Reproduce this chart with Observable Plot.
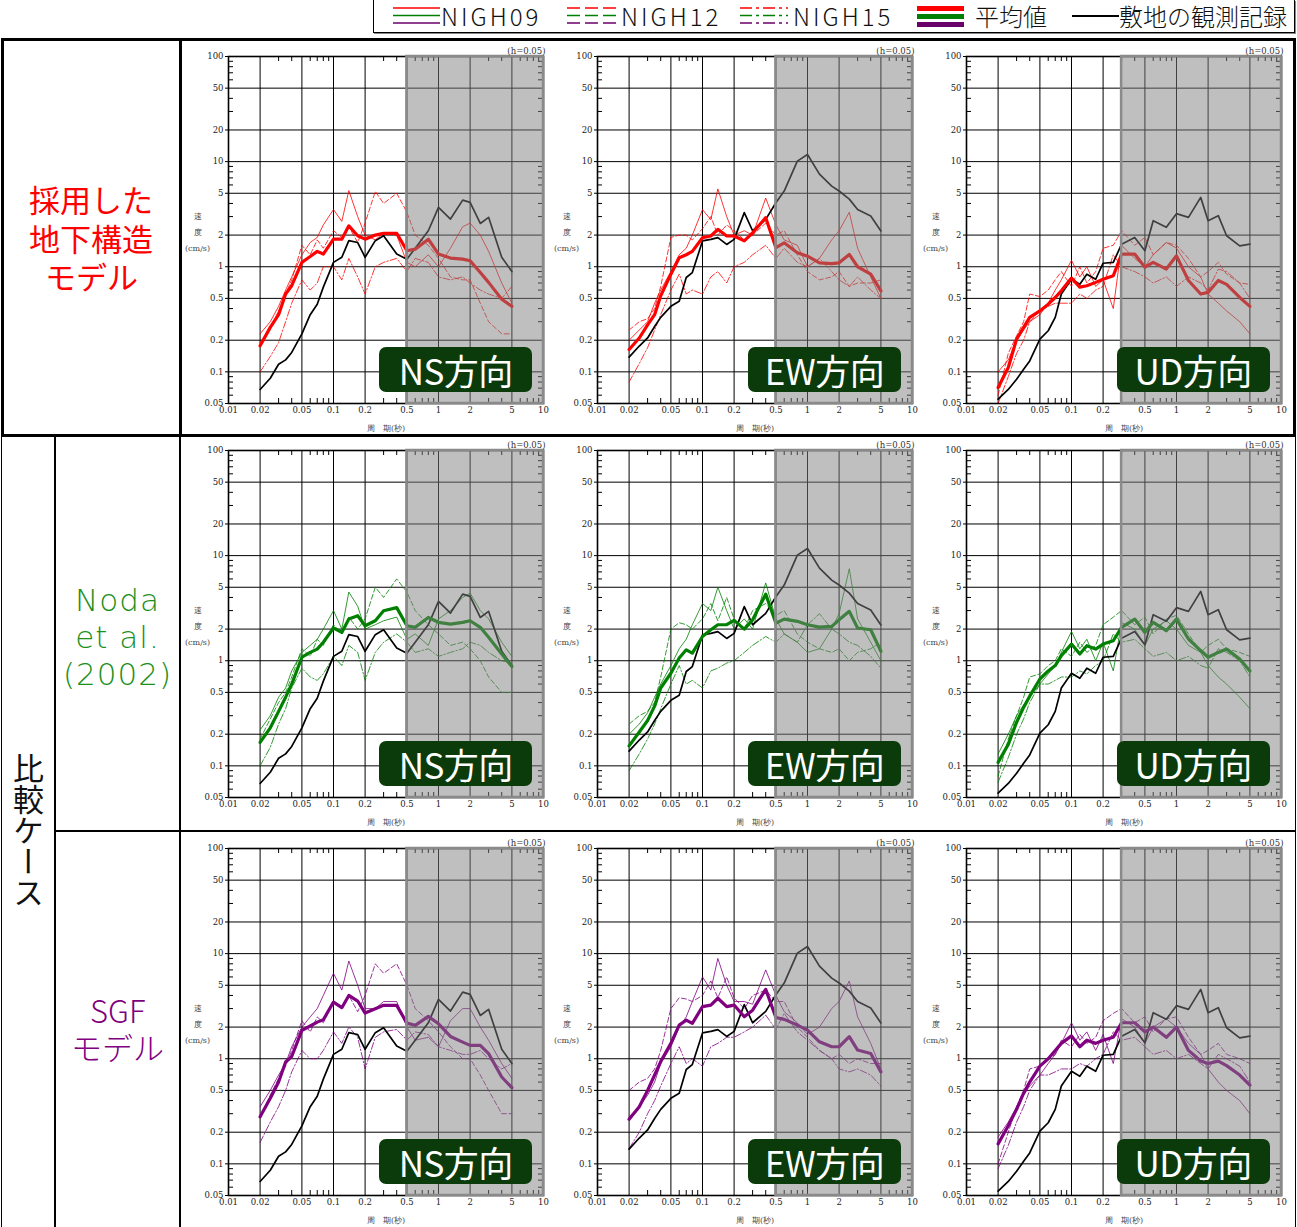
<!DOCTYPE html>
<html><head><meta charset="utf-8">
<script src="https://cdn.jsdelivr.net/npm/d3@7"></script>
<script src="https://cdn.jsdelivr.net/npm/@observablehq/plot@0.6"></script>
<style>
@font-face{font-family:"JPTight";src:local("Noto Sans CJK JP Regular"),local("NotoSansCJKjp-Regular"),local("Noto Sans CJK JP");ascent-override:92%;descent-override:14%;line-gap-override:0%;}
@font-face{font-family:"JPTightLight";src:local("Noto Sans CJK JP Light"),local("NotoSansCJKjp-Light"),local("Noto Sans CJK JP Regular"),local("NotoSansCJKjp-Regular"),local("Noto Sans CJK JP");ascent-override:92%;descent-override:14%;line-gap-override:0%;}
html,body{margin:0;padding:0;background:#fff;}
body{width:1297px;height:1227px;overflow:hidden;position:relative;font-family:"Noto Sans CJK JP","Noto Sans",sans-serif;}
.abs{position:absolute;}
.panel{position:absolute;}
.tag{position:absolute;width:153px;height:45px;border-radius:7px;background:#0b3a0b;color:#fff;font-size:35px;line-height:45px;text-align:center;font-family:"Noto Sans CJK JP",sans-serif;letter-spacing:-0.5px;}
.leg{position:absolute;top:0px;font-size:24px;line-height:31px;height:31px;font-family:"Noto Sans CJK JP",sans-serif;font-weight:300;color:#111;white-space:nowrap;}
.lab{position:absolute;text-align:center;white-space:nowrap;}
</style></head><body>
<script>
// ---------------- data ----------------
const periods = [0.02,0.025,0.03,0.035,0.04,0.05,0.06,0.07,0.08,0.1,0.12,0.14,0.17,0.2,0.25,0.3,0.4,0.5,0.6,0.8,1,1.3,1.7,2,2.5,3,4,5];
const components = ["NS","EW","UD"];
const shadeFrom = [0.5,0.5,0.3];
const caseColors = ["#ff0000","#008000","#800080"];
const xTicks = [0.01,0.02,0.05,0.1,0.2,0.5,1,2,5,10];
const yTicks = [0.05,0.1,0.2,0.5,1,2,5,10,20,50,100];
const xGrid = [0.02,0.05,0.1,0.2,0.5,1,2,5];
const yGrid = [0.1,0.2,0.5,1,2,5,10,20,50];
const xMinor = [0.03,0.04,0.06,0.07,0.08,0.09,0.3,0.4,0.6,0.7,0.8,0.9,3,4,6,7,8,9];
const yMinor = [0.06,0.07,0.08,0.09,0.3,0.4,0.6,0.7,0.8,0.9,3,4,6,7,8,9,30,40,60,70,80,90];

// observed records (black)
const obsNS = [0.068,0.087,0.118,0.13,0.153,0.23,0.35,0.44,0.64,1.1,1.23,1.77,1.7,1.23,1.77,1.97,1.32,1.18,1.5,2.2,3.67,2.84,4.3,4.1,2.58,2.95,1.23,0.9];
const obsEW = [0.138,0.176,0.21,0.27,0.33,0.42,0.47,0.79,0.88,1.76,1.82,1.89,1.63,1.82,3.27,2.2,2.82,4.06,5.25,10.1,11.7,7.6,5.85,5.25,4.4,3.5,3.04,2.19];
const obsUD = [0.055,0.068,0.085,0.106,0.127,0.205,0.246,0.33,0.55,0.76,0.68,0.85,0.76,1.08,1.1,1.64,1.9,1.42,2.74,2.37,3.2,2.95,4.57,2.74,3.06,1.97,1.58,1.64];

// 採用した地下構造モデル (red)
const redNSmean = [0.177,0.265,0.35,0.55,0.66,1.1,1.25,1.4,1.32,1.83,1.83,2.45,1.97,1.83,2.0,2.08,2.08,1.42,1.47,1.83,1.32,1.21,1.18,1.14,0.88,0.71,0.49,0.42];
const redNS09 = [0.23,0.3,0.42,0.6,0.8,1.3,1.7,1.9,2.5,3.5,2.7,5.3,3.0,2.0,1.8,2.1,2.0,1.1,1.0,1.3,1.0,1.5,2.4,2.6,2.0,1.4,0.7,0.45];
const redNS12 = [0.19,0.26,0.38,0.55,0.75,1.6,1.3,1.8,1.5,2.2,1.9,2.4,1.7,2.6,5.2,4.0,5.0,3.3,2.0,1.6,1.2,0.8,0.75,0.75,0.45,0.3,0.23,0.23];
const redNS15 = [0.1,0.14,0.19,0.3,0.45,0.75,0.6,0.7,1.0,1.0,0.75,1.2,0.8,0.55,1.0,1.1,1.2,0.9,1.2,1.1,0.8,0.75,0.8,0.7,0.6,0.55,0.5,0.65];
const redEWmean = [0.163,0.21,0.28,0.35,0.53,0.85,1.22,1.3,1.4,1.89,1.96,2.27,1.96,1.96,1.76,2.1,2.93,1.52,1.69,1.36,1.26,1.09,1.07,1.09,1.31,1.0,0.85,0.59];
const redEW09 = [0.2,0.25,0.3,0.45,0.6,0.9,1.3,1.5,2.0,3.5,2.8,5.5,3.0,2.0,2.2,2.0,4.5,2.5,1.8,1.6,1.0,1.2,1.8,2.2,3.3,1.5,0.8,0.5];
const redEW12 = [0.25,0.3,0.32,0.4,0.65,1.9,2.0,2.0,1.8,2.3,3.0,2.0,2.5,2.2,1.8,2.0,2.6,2.0,2.2,1.3,0.9,0.75,0.8,0.9,0.65,0.7,0.7,0.75];
const redEW15 = [0.08,0.12,0.17,0.25,0.35,0.6,0.85,0.55,0.6,0.55,0.8,0.9,0.7,1.0,1.1,1.3,1.6,1.2,1.5,1.1,1.0,1.2,0.9,0.75,0.65,0.8,0.6,0.5];
const redUDmean = [0.071,0.11,0.205,0.265,0.33,0.38,0.44,0.51,0.59,0.78,0.64,0.66,0.71,0.76,0.82,1.32,1.32,0.99,1.1,0.95,1.27,0.74,0.55,0.57,0.74,0.68,0.51,0.42];
const redUD09 = [0.1,0.13,0.2,0.25,0.3,0.35,0.45,0.6,0.75,1.15,0.8,1.0,0.65,0.75,0.4,1.6,1.2,1.0,1.3,1.7,1.5,1.0,0.8,0.55,0.45,0.38,0.3,0.23];
const redUD12 = [0.06,0.15,0.22,0.3,0.55,0.52,0.6,0.75,0.9,0.65,1.0,0.7,0.9,1.5,1.6,2.2,1.6,1.9,1.3,1.7,1.6,1.2,0.8,0.9,1.1,0.85,0.7,0.68];
const redUD15 = [0.05,0.09,0.15,0.2,0.3,0.38,0.42,0.45,0.45,0.45,0.55,0.5,0.6,0.65,1.3,1.0,0.9,0.8,0.7,0.8,0.65,0.8,0.7,0.6,0.95,0.9,0.7,0.5];

// Noda et al. (2002) (green)
const greenNSmean = [0.167,0.23,0.33,0.45,0.6,1.08,1.2,1.29,1.5,2.05,1.86,2.5,2.68,2.15,2.4,2.99,3.2,2.15,2.08,2.58,2.32,2.23,2.32,2.4,2.08,1.67,1.16,0.88];
const greenNS09 = [0.22,0.3,0.45,0.55,0.8,1.2,1.4,1.6,2.0,3.0,2.0,4.5,3.3,2.0,2.2,2.4,2.6,1.6,1.8,1.4,2.5,3.0,4.0,4.4,3.0,2.5,1.5,1.1];
const greenNS12 = [0.18,0.28,0.4,0.5,0.7,1.3,1.1,1.6,1.4,2.2,1.8,2.6,2.0,2.5,5.0,4.0,6.0,4.5,3.0,2.2,1.8,1.4,1.5,1.3,1.0,0.7,0.5,0.5];
const greenNS15 = [0.1,0.15,0.25,0.35,0.55,0.85,0.7,0.65,0.75,1.1,0.9,1.4,1.2,0.65,1.2,1.5,1.8,1.5,1.2,1.3,1.1,1.2,1.3,1.5,1.4,1.2,1.0,0.95];
const greenEWmean = [0.155,0.21,0.27,0.37,0.55,0.76,1.06,1.27,1.18,1.7,1.97,2.2,2.2,2.42,2.0,2.45,4.3,2.28,2.49,2.37,2.2,2.09,2.12,2.45,2.95,2.05,1.97,1.23];
const greenEW09 = [0.2,0.25,0.32,0.45,0.6,0.9,1.3,1.6,2.2,3.5,3.0,5.0,3.0,2.0,2.5,2.0,5.5,2.5,1.8,1.5,1.2,1.3,2.0,2.8,7.5,2.5,1.5,1.0];
const greenEW12 = [0.25,0.3,0.33,0.4,0.7,2.0,2.3,2.2,2.0,2.5,3.5,2.4,4.0,2.5,2.0,3.0,3.5,2.7,3.0,1.8,1.5,1.3,1.2,1.3,1.0,1.2,1.3,1.5];
const greenEW15 = [0.09,0.13,0.18,0.25,0.35,0.6,0.9,0.6,0.65,0.55,0.8,0.85,0.95,1.0,1.2,1.4,1.7,1.5,1.8,1.5,2.2,2.8,2.0,1.8,1.5,1.4,1.1,0.85];
const greenUDmean = [0.108,0.16,0.26,0.36,0.46,0.67,0.8,0.9,1.12,1.44,1.16,1.39,1.29,1.44,1.55,2.08,2.49,1.86,2.32,1.93,2.49,1.61,1.25,1.08,1.2,1.29,1.04,0.8];
const greenUD09 = [0.13,0.2,0.3,0.38,0.45,0.6,0.75,0.9,1.2,1.9,1.3,1.6,1.0,1.5,0.8,2.3,2.0,1.4,2.0,2.4,2.0,1.4,1.2,0.9,0.7,0.6,0.45,0.35];
const greenUD12 = [0.08,0.18,0.3,0.45,0.7,0.75,0.9,1.0,1.3,1.1,1.5,1.2,1.4,2.2,2.6,3.0,2.2,2.6,1.8,2.5,2.7,1.8,1.2,1.4,1.6,1.3,1.2,1.1];
const greenUD15 = [0.07,0.12,0.2,0.28,0.4,0.6,0.6,0.65,0.7,0.7,0.8,0.75,0.9,1.0,1.8,1.5,1.6,1.3,1.1,1.2,1.0,1.1,0.9,0.85,1.3,1.2,1.0,0.7];

// SGFモデル (purple)
const purpleNSmean = [0.28,0.42,0.6,0.93,1.05,1.86,2.05,2.23,2.35,3.46,3.06,4.0,3.54,2.72,2.99,3.22,3.22,2.18,2.08,2.53,2.15,1.63,1.44,1.34,1.34,1.12,0.67,0.53];
const purpleNS09 = [0.35,0.5,0.7,0.9,1.3,2.0,2.5,3.0,4.0,6.5,4.5,8.5,5.0,3.0,3.0,3.5,3.5,2.0,1.5,1.6,1.3,2.3,3.0,3.0,2.0,1.5,0.9,0.65];
const purpleNS12 = [0.28,0.45,0.65,0.85,1.2,2.3,1.8,2.5,2.2,3.5,3.0,4.0,2.8,4.0,8.0,6.5,8.0,5.0,3.0,2.3,1.8,1.3,1.0,1.0,0.7,0.5,0.3,0.3];
const purpleNS15 = [0.16,0.25,0.35,0.5,0.75,1.2,1.0,1.0,1.2,1.8,1.4,2.0,1.6,0.8,1.6,1.8,1.9,1.5,1.8,1.7,1.3,1.2,1.1,1.1,1.2,1.0,0.8,0.9];
const purpleEWmean = [0.265,0.35,0.5,0.7,0.94,1.4,2.09,2.33,2.17,3.13,3.24,3.76,3.13,3.24,2.51,2.9,4.57,2.47,2.37,2.09,1.87,1.45,1.3,1.3,1.62,1.21,1.12,0.75];
const purpleEW09 = [0.28,0.35,0.45,0.6,0.9,1.3,2.0,2.5,3.5,6.0,4.5,9.0,5.0,3.5,3.5,3.3,7.0,4.0,2.8,2.2,1.7,2.0,3.0,3.5,5.5,2.5,1.4,0.8];
const purpleEW12 = [0.5,0.6,0.65,0.8,1.2,3.0,3.8,3.7,3.5,4.0,5.5,3.8,6.0,3.8,3.0,4.0,4.5,3.5,3.5,2.0,1.6,1.2,1.0,1.1,0.9,1.0,0.9,0.9];
const purpleEW15 = [0.14,0.2,0.3,0.4,0.55,0.9,1.3,0.9,1.0,0.85,1.3,1.4,1.6,1.6,1.8,2.0,2.6,1.9,2.7,1.8,1.5,1.2,1.0,0.8,0.75,0.8,0.7,0.55];
const purpleUDmean = [0.155,0.23,0.33,0.47,0.6,0.85,1.0,1.2,1.4,1.65,1.3,1.5,1.4,1.5,1.6,2.2,2.2,1.8,2.0,1.6,2.0,1.2,0.95,0.9,0.95,0.86,0.7,0.56];
const purpleUD09 = [0.18,0.25,0.35,0.45,0.55,0.7,0.9,1.1,1.4,2.2,1.5,1.8,1.2,1.7,0.9,2.4,2.0,1.4,2.0,2.4,2.0,1.4,1.1,0.8,0.6,0.5,0.4,0.3];
const purpleUD12 = [0.1,0.2,0.35,0.5,0.8,0.85,1.0,1.1,1.5,1.3,1.7,1.4,1.6,2.3,2.7,3.0,2.2,2.5,1.8,2.4,2.5,1.6,1.1,1.2,1.4,1.1,1.0,0.9];
const purpleUD15 = [0.09,0.15,0.25,0.35,0.5,0.7,0.7,0.75,0.8,0.8,0.9,0.85,1.0,1.1,1.8,1.5,1.6,1.3,1.1,1.2,1.0,1.1,0.9,0.8,1.1,1.0,0.85,0.6];

const observed = [obsNS, obsEW, obsUD];
const simulated = [
  [[redNSmean,redNS09,redNS12,redNS15],[redEWmean,redEW09,redEW12,redEW15],[redUDmean,redUD09,redUD12,redUD15]],
  [[greenNSmean,greenNS09,greenNS12,greenNS15],[greenEWmean,greenEW09,greenEW12,greenEW15],[greenUDmean,greenUD09,greenUD12,greenUD15]],
  [[purpleNSmean,purpleNS09,purpleNS12,purpleNS15],[purpleEWmean,purpleEW09,purpleEW12,purpleEW15],[purpleUDmean,purpleUD09,purpleUD12,purpleUD15]]
];

// ---------------- layout ----------------
const PW = 315, PH = 347, ML = 50, MR = 10, MT = 18, MB = 34;
const colX = [228.3, 597.0, 965.7];
const rowY = [55.7, 449.7, 848.1];
const minorLen = 10 ** (5 / 105);   // ~5px on a 105px/decade scale
const outLen = 10 ** (3 / 105);     // ~3px outward major ticks

function el(tag, cls, style, html) {
  const e = document.createElement(tag);
  if (cls) e.className = cls;
  if (style) e.setAttribute("style", style);
  if (html != null) e.innerHTML = html;
  document.body.appendChild(e);
  return e;
}

function toRows(arr) { return periods.map((p, i) => ({p, v: arr[i]})); }

function panel(r, c) {
  const color = caseColors[r];
  const [mean, v09, v12, v15] = simulated[r][c];
  const shade = [{x1: shadeFrom[c], x2: xTicks[xTicks.length - 1], y1: yTicks[0], y2: yTicks[yTicks.length - 1]}];
  return Plot.plot({
    width: ML + PW + MR, height: MT + PH + MB,
    marginLeft: ML, marginRight: MR, marginTop: MT, marginBottom: MB,
    style: {background: "transparent", fontFamily: "'DejaVu Serif', serif", fontSize: "8.5px", color: "#222", overflow: "visible"},
    x: {type: "log", domain: [0.01, 10], axis: null},
    y: {type: "log", domain: [0.05, 100], axis: null},
    marks: [
      Plot.ruleY(yGrid, {stroke: "#000", strokeWidth: 1}),
      Plot.ruleX(xGrid, {stroke: "#000", strokeWidth: 1}),
      Plot.ruleY(yTicks, {x1: 0.01 / outLen, x2: 0.01, stroke: "#000", strokeWidth: 1}),
      Plot.ruleY(yMinor, {x1: 0.01, x2: 0.01 * minorLen, stroke: "#000", strokeWidth: 1}),
      Plot.ruleY(yMinor, {x1: 10 / minorLen, x2: 10, stroke: "#000", strokeWidth: 1}),
      Plot.ruleX(xMinor, {y1: 0.05, y2: 0.05 * minorLen, stroke: "#000", strokeWidth: 1}),
      Plot.ruleX(xMinor, {y1: 100 / minorLen, y2: 100, stroke: "#000", strokeWidth: 1}),
      Plot.line(toRows(v09), {x: "p", y: "v", stroke: color, strokeWidth: 0.8}),
      Plot.line(toRows(v12), {x: "p", y: "v", stroke: color, strokeWidth: 0.8, strokeDasharray: "5,2.5"}),
      Plot.line(toRows(v15), {x: "p", y: "v", stroke: color, strokeWidth: 0.8, strokeDasharray: "7,2,1.5,2"}),
      Plot.line(toRows(observed[c]), {x: "p", y: "v", stroke: "#000", strokeWidth: 1.7}),
      Plot.line(toRows(mean), {x: "p", y: "v", stroke: color, strokeWidth: 3.2}),
      Plot.frame({stroke: "#000", strokeWidth: 1.6}),
      Plot.rect(shade, {x1: "x1", x2: "x2", y1: "y1", y2: "y2", fill: "#808080", fillOpacity: 0.5}),
      Plot.rect(shade, {x1: "x1", x2: "x2", y1: "y1", y2: "y2", fill: "none", stroke: "#8a8a8a", strokeWidth: 2.5}),
      Plot.text(xTicks, {x: d => d, frameAnchor: "bottom", text: d => String(d), textAnchor: "middle", lineAnchor: "top", dy: 3, fill: "#222"}),
      Plot.text(yTicks, {y: d => d, frameAnchor: "left", text: d => String(d), textAnchor: "end", lineAnchor: "middle", dx: -5, fill: "#222"}),
      Plot.text(["(h=0.05)"], {frameAnchor: "top-right", text: d => d, textAnchor: "end", lineAnchor: "bottom", dx: 2, dy: -3, fill: "#333"}),
      Plot.text(["速\n度\n(cm/s)"], {frameAnchor: "left", text: d => d, textAnchor: "middle", lineAnchor: "middle", dx: -31, lineHeight: 2.0, fontSize: 8, fill: "#444"}),
      Plot.text(["周　期(秒)"], {frameAnchor: "bottom", text: d => d, textAnchor: "middle", lineAnchor: "middle", dy: 25, fontSize: 8, fill: "#444"})
    ]
  });
}

// panels
for (let r = 0; r < 3; r++) {
  for (let c = 0; c < 3; c++) {
    const svg = panel(r, c);
    const wrap = el("div", "panel", `left:${colX[c] - ML}px;top:${rowY[r] - MT}px;`);
    wrap.appendChild(svg);
    el("div", "tag", `left:${colX[c] + PW - 11 - 153}px;top:${rowY[r] + PH - 11 - 45}px;`, components[c] + "方向");
  }
}

// table borders
el("div", "abs", "left:1px;top:38px;width:1295px;height:399px;box-sizing:border-box;border:3px solid #000;");
el("div", "abs", "left:179px;top:39px;width:2.5px;height:397px;background:#000;");
el("div", "abs", "left:1px;top:436px;width:1295px;height:800px;box-sizing:border-box;border:1.5px solid #000;border-top:none;");
el("div", "abs", "left:54px;top:436px;width:1.5px;height:800px;background:#000;");
el("div", "abs", "left:179px;top:436px;width:1.5px;height:800px;background:#000;");
el("div", "abs", "left:55px;top:830px;width:1241px;height:1.5px;background:#000;");

// row labels (one element per line)
const topLines = ["採用した", "地下構造", "モデル"];
topLines.forEach((t, i) => el("div", "lab", `left:2px;top:${183 + i * 38.5}px;width:178px;height:34px;line-height:34px;color:${caseColors[0]};font-size:31px;font-family:JPTight,'Noto Sans CJK JP',sans-serif;`, t));
const nodaLines = ["Noda", "et al.", "(2002)"];
nodaLines.forEach((t, i) => el("div", "lab", `left:55px;top:${582 + i * 37}px;width:125px;height:36px;line-height:36px;color:#1a8f1a;font-size:31px;letter-spacing:1px;font-family:'DejaVu Sans',sans-serif;font-weight:200;`, t));
const sgfLines = ["SGF", "モデル"];
sgfLines.forEach((t, i) => el("div", "lab", `left:55px;top:${994 + i * 37}px;width:125px;height:34px;line-height:34px;color:${caseColors[2]};font-size:31px;font-family:JPTightLight,'Noto Sans CJK JP',sans-serif;`, t));
el("div", "abs", "left:12px;top:753px;writing-mode:vertical-rl;font-size:31px;line-height:32px;color:#111;", "比較ケース");

// legend
el("div", "abs", "left:373px;top:0px;width:922px;height:33px;box-sizing:border-box;border:1px solid #000;border-top:none;box-shadow:1px 1px 0 #888;");
function swatch(left, dash, width, thick) {
  const ys = thick ? [7.5, 15.5, 23.5] : [7, 14.5, 22];
  const cols = ["#ff0000", "#008000", "#6a006a"];
  const lines = ys.map((y, i) => `<line x1="0" x2="${width}" y1="${y}" y2="${y}" stroke="${cols[i]}" stroke-width="${thick ? 5 : 1.6}" ${dash ? `stroke-dasharray="${dash}"` : ""}/>`).join("");
  el("div", "abs", `left:${left}px;top:1px;`, `<svg width="${width}" height="30">${lines}</svg>`);
}
swatch(393, null, 47, false);
el("div", "leg", "left:441px;letter-spacing:3px;", "NIGH09");
swatch(567, "13,5", 54, false);
el("div", "leg", "left:621px;letter-spacing:3px;", "NIGH12");
swatch(740, "12,4,3,4", 48, false);
el("div", "leg", "left:793px;letter-spacing:3px;", "NIGH15");
swatch(917, null, 47, true);
el("div", "leg", "left:975px;", "平均値");
el("div", "abs", "left:1072px;top:1px;", `<svg width="47" height="30"><line x1="0" x2="47" y1="15" y2="15" stroke="#000" stroke-width="1.8"/></svg>`);
el("div", "leg", "left:1119px;", "敷地の観測記録");
</script>
</body></html>
